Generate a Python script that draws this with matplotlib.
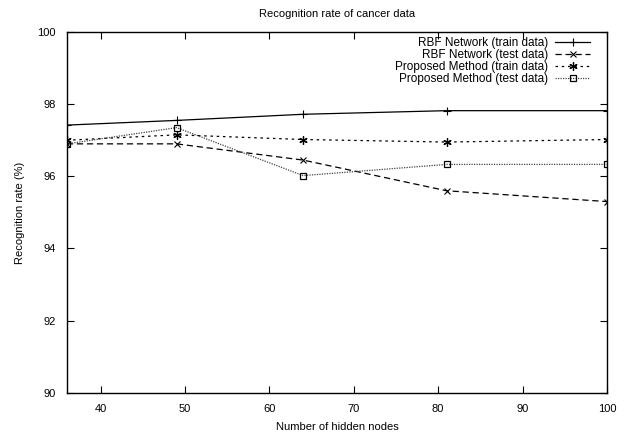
import matplotlib
matplotlib.use("Agg")
import matplotlib.pyplot as plt

plt.rcParams['font.family'] = ['Liberation Sans', 'DejaVu Sans']
plt.rcParams['font.size'] = 8

# hidden nodes
nodes = [36, 49, 64, 81, 100]
rbf_train = [97.42, 97.55, 97.72, 97.82, 97.82]
rbf_test = [96.9, 96.9, 96.45, 95.6, 95.3]
prop_train = [97.0, 97.15, 97.02, 96.95, 97.02]
prop_test = [96.9, 97.35, 96.02, 96.33, 96.33]

fig = plt.figure(figsize=(6.25, 4.33), dpi=100)
ax = fig.add_axes([0.107, 0.093, 0.864, 0.833])

ax.plot(nodes, rbf_train, color='black', lw=0.9, marker='+', ms=6, mew=0.8,
        label='RBF Network (train data)')
ax.plot(nodes, rbf_test, color='black', lw=0.9, ls=(0, (5, 3)), marker='x', ms=5, mew=0.8,
        label='RBF Network (test data)')
ax.plot(nodes, prop_train, color='black', lw=0.9, ls=(0, (2, 3)), marker=(6, 2, 0), ms=6, mew=0.9,
        label='Proposed Method (train data)')
ax.plot(nodes, prop_test, color='#444444', lw=0.9, ls=(0, (1, 1)), marker='s', ms=5, mew=0.9,
        mfc='none', mec='black', label='Proposed Method (test data)')

ax.set_xlim(36, 100)
ax.set_ylim(90, 100)
ax.set_xticks([40, 50, 60, 70, 80, 90, 100])
ax.set_yticks([90, 92, 94, 96, 98, 100])
ax.tick_params(direction='in', top=True, right=True, length=5, width=0.8)
ax.tick_params(axis='x', pad=8)
ax.tick_params(axis='y', pad=8)
for s in ax.spines.values():
    s.set_linewidth(1.0)

ax.set_title('Recognition rate of cancer data', fontsize=8, pad=11)
ax.set_xlabel('Number of hidden nodes', labelpad=6)
ax.set_ylabel('Recognition rate (%)', labelpad=9)

ax.legend(loc='upper right', bbox_to_anchor=(0.976, 0.995), frameon=False,
          markerfirst=False, fontsize=8.5, handlelength=3.0, labelspacing=0.0,
          borderaxespad=0.0, handletextpad=0.6, borderpad=0.3)

fig.savefig('out.png', dpi=100)
